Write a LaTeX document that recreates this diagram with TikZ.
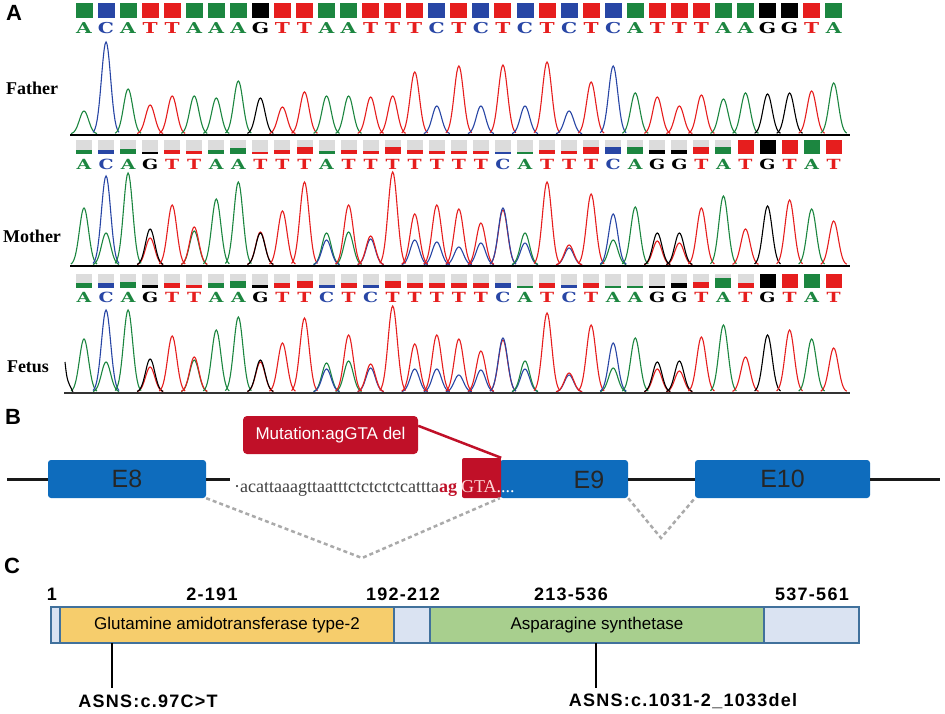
\documentclass[tikz,border=0pt]{standalone}
\usepackage{fontspec}
\newfontfamily\sansfnt{Liberation Sans}
\newfontfamily\sanslbl[LetterSpace=7]{Liberation Sans}
\newfontfamily\serifnt{Liberation Serif}
\newfontfamily\basefnt{DejaVu Serif}
\definecolor{colA}{RGB}{28,134,64}
\definecolor{colC}{RGB}{40,70,165}
\definecolor{colG}{RGB}{0,0,0}
\definecolor{colT}{RGB}{230,30,30}
\definecolor{exonblue}{RGB}{14,108,189}
\definecolor{mutred}{RGB}{192,16,40}
\definecolor{splicegray}{RGB}{170,170,170}
\definecolor{gatyellow}{RGB}{246,205,108}
\definecolor{asngreen}{RGB}{168,207,142}
\definecolor{linkblue}{RGB}{218,227,242}
\definecolor{edgeblue}{RGB}{65,113,156}
\definecolor{emptygray}{RGB}{220,220,220}
\begin{document}
\begin{tikzpicture}[x=1pt, y=-1pt,
    trace/.style={line width=1.1pt},
    basechar/.style={font=\basefnt\bfseries\fontsize{15}{15}\selectfont, inner sep=0pt},
    smallchar/.style={font=\basefnt\bfseries\fontsize{14}{14}\selectfont, inner sep=0pt},
    who/.style={font=\serifnt\bfseries\fontsize{18}{18}\selectfont, inner sep=0pt},
    panel/.style={font=\sansfnt\bfseries\fontsize{22}{22}\selectfont, inner sep=0pt},
    exon/.style={fill=exonblue, rounded corners=3pt, inner sep=0pt, minimum height=38pt,
        font=\sansfnt\fontsize{25}{25}\selectfont, text=black!85},
    protdom/.style={draw=edgeblue, line width=1.8pt, inner sep=0pt, minimum height=36pt,
        font=\sansfnt\fontsize{17}{17}\selectfont},
    reslbl/.style={font=\sanslbl\bfseries\fontsize{18}{18}\selectfont, inner sep=0pt}]
    \useasboundingbox[fill=white] (0,0) rectangle (945,714);

    % Rótulos dos painéis
    \node[panel] (pA) at (14,13) {A};
    \node[panel] (pB) at (13,417) {B};
    \node[panel] (pC) at (12,566) {C};

    % Rótulos das amostras
    \node[who] (lfather) at (32,88) {Father};
    \node[who] (lmother) at (32,236) {Mother};
    \node[who] (lfetus) at (28,367) {Fetus};

    % Sequência do pai
    \foreach \i/\b in {1/A,2/C,3/A,4/T,5/T,6/A,7/A,8/A,9/G,10/T,11/T,12/A,13/A,14/T,15/T,16/T,17/C,18/T,
        19/C,20/T,21/C,22/T,23/C,24/T,25/C,26/A,27/T,28/T,29/T,30/A,31/A,32/G,33/G,34/T,35/A} {
        \fill[col\b] ({84+22.05*(\i-1)-8.5},3) rectangle ({84+22.05*(\i-1)+8.5},18);
        \node[basechar, text=col\b] (father\i) at ({84+22.05*(\i-1)},28.5) {\scalebox{1.35}[1]{\b}};
    }
    % Cromatograma do pai
    \foreach \i/\h/\b in {1/23/A,2/92/C,3/45/A,4/29/T,5/38/T,6/38/A,7/36/A,8/53/A,9/36/G,10/27/T,11/42/T,
        12/38/A,13/38/A,14/37/T,15/38/T,16/62/T,17/28/C,18/68/T,19/28/C,20/69/T,21/28/C,22/72/T,23/23/C,
        24/52/T,25/68/C,26/41/A,27/37/T,28/28/T,29/39/T,30/35/A,31/41/A,32/40/G,33/41/G,34/43/T,35/51/A}
        \draw[trace, col\b] plot[domain=-13:13, samples=27]
            ({84+22.05*(\i-1)+\x}, {134-\h*exp(-((\x)/6.5)*((\x)/6.5))});
    \draw[line width=1.5pt] (70,135) -- (850,135);

    % Sequência da mãe
    \foreach \i/\b/\f in {1/A/.35,2/C/.35,3/A/.4,4/G/.2,5/T/.35,6/T/.25,7/A/.35,8/A/.45,9/T/.2,10/T/.3,
        11/T/.5,12/A/.25,13/T/.35,14/T/.25,15/T/.55,16/T/.35,17/T/.25,18/T/.25,19/T/.25,20/C/.2,21/A/.15,
        22/T/.35,23/T/.25,24/T/.55,25/C/.5,26/A/.5,27/G/.3,28/G/.3,29/T/.5,30/A/.55,31/T/1,32/G/1,33/T/1,
        34/A/1,35/T/1} {
        \fill[emptygray] ({84+22.05*(\i-1)-8},140.5) rectangle ({84+22.05*(\i-1)+8},154.5);
        \fill[col\b] ({84+22.05*(\i-1)-8},{154.5-14*\f}) rectangle ({84+22.05*(\i-1)+8},154.5);
        \node[smallchar, text=col\b] (mother\i) at ({84+22.05*(\i-1)},164) {\scalebox{1.35}[1]{\b}};
    }
    % Cromatograma da mãe (picos secundários e principais)
    \foreach \i/\h/\b in {2/32/A,4/27/T,6/34/A,9/33/T,12/32/A,13/33/A,14/26/C,16/25/C,17/23/C,18/18/C,
        19/22/C,20/55/T,21/22/C,23/17/C,25/25/A,27/24/T,28/22/T,
        1/57/A,2/89/C,3/92/A,4/36/G,5/60/T,6/38/T,7/66/A,8/83/A,9/32/G,10/54/T,11/83/T,12/25/C,13/60/T,
        14/29/T,15/93/T,16/51/T,17/60/T,18/56/T,19/42/T,20/57/C,21/32/A,22/83/T,23/20/T,24/71/T,25/51/C,
        26/58/A,27/32/G,28/32/G,29/57/T,30/69/A,31/36/T,32/59/G,33/65/T,34/56/A,35/44/T}
        \draw[trace, col\b] plot[domain=-13:13, samples=27]
            ({84+22.05*(\i-1)+\x}, {265-\h*exp(-((\x)/6.5)*((\x)/6.5))});
    \draw[line width=1.5pt] (70,266) -- (850,266);

    % Sequência do feto
    \foreach \i/\b/\f in {1/A/.3,2/C/.35,3/A/.4,4/G/.2,5/T/.35,6/T/.15,7/A/.35,8/A/.45,9/G/.2,10/T/.35,
        11/T/.5,12/C/.15,13/T/.35,14/C/.15,15/T/.5,16/T/.35,17/T/.3,18/T/.3,19/T/.3,20/C/.3,21/A/.1,
        22/T/.35,23/C/.2,24/T/.3,25/A/.1,26/A/.1,27/G/.1,28/G/.3,29/T/.4,30/A/.65,31/T/.35,32/G/1,33/T/1,
        34/A/1,35/T/1} {
        \fill[emptygray] ({84+22.05*(\i-1)-8},273.5) rectangle ({84+22.05*(\i-1)+8},287.5);
        \fill[col\b] ({84+22.05*(\i-1)-8},{287.5-14*\f}) rectangle ({84+22.05*(\i-1)+8},287.5);
        \node[smallchar, text=col\b] (fetus\i) at ({84+22.05*(\i-1)},297.5) {\scalebox{1.35}[1]{\b}};
    }
    % Cromatograma do feto (picos secundários e principais)
    \foreach \i/\h/\b in {2/30/A,4/25/T,6/32/A,9/30/T,12/29/A,13/31/A,14/24/C,16/23/C,17/23/C,18/17/C,
        19/22/C,20/52/T,21/23/C,23/17/C,25/24/A,27/23/T,28/21/T,
        1/53/A,2/82/C,3/82/A,4/33/G,5/56/T,6/35/T,7/62/A,8/75/A,9/32/G,10/49/T,11/74/T,12/23/C,13/57/T,
        14/28/T,15/86/T,16/48/T,17/57/T,18/53/T,19/41/T,20/54/C,21/31/A,22/79/T,23/19/T,24/67/T,25/49/C,
        26/54/A,27/30/G,28/31/G,29/55/T,30/67/A,31/35/T,32/57/G,33/62/T,34/53/A,35/44/T}
        \draw[trace, col\b] plot[domain=-13:13, samples=27]
            ({84+22.05*(\i-1)+\x}, {392-\h*exp(-((\x)/6.5)*((\x)/6.5))});
    \draw[trace] (65,362) .. controls (67,380) .. (73,392);
    \draw[line width=1.5pt, black!80] (64,393) -- (850,393);

    % Painel B: éxons e íntrons
    \coordinate (lstart) at (7,479);
    \coordinate (seqstart) at (230,479);
    \coordinate (lend) at (940,479);
    \node[exon, minimum width=158pt] (E8) at (127,479) {E8};
    \node[exon, minimum width=128pt] (E9) at (564,479) {};
    \node[exon, minimum width=175pt] (E10) at (782.5,479) {E10};
    \node[fill=mutred, rounded corners=2pt, minimum width=39pt, minimum height=40pt, inner sep=0pt]
        (mut) at (481.5,478) {};
    \node[font=\sansfnt\fontsize{25}{25}\selectfont, text=black!85, inner sep=0pt] (e9lbl) at (589,480) {E9};
    \draw[line width=3pt, black!90] (lstart) -- (E8.west);
    \draw[line width=3pt, black!90] (E8.east) -- (seqstart);
    \draw[line width=3pt, black!90] (E9.east) -- (E10.west);
    \draw[line width=3pt, black!90] (E10.east) -- (lend);
    \node[anchor=base west, inner sep=0pt, font=\serifnt\fontsize{18}{18}\selectfont, text=black!75]
        (seq) at (234,492) {·acattaaagttaatttctctctctcattta\textcolor{mutred}{\textbf{ag}}\hspace{4pt}%
        \textcolor{red!15}{GTA}\textcolor{white}{....}};

    % Caixa da mutação
    \node[fill=mutred, rounded corners=4pt, minimum width=175pt, minimum height=38pt, inner sep=0pt,
        font=\sansfnt\fontsize{17}{17}\selectfont, text=white] (callout) at (330.5,435) {Mutation:agGTA del};
    \draw[mutred, line width=2.5pt] (callout.6) -- (mut.north east);

    % Splicing (linhas tracejadas)
    \coordinate (apexa) at (362,558);
    \coordinate (apexb) at (661,538);
    \draw[splicegray, line width=2.5pt, dash pattern=on 4pt off 3pt] (E8.south east) -- (apexa) -- (E9.south west);
    \draw[splicegray, line width=2.5pt, dash pattern=on 4pt off 3pt] (E9.south east) -- (apexb) -- (E10.south west);

    % Painel C: domínios da proteína
    \node[protdom, fill=linkblue, minimum width=9pt] (dom1) at (55.5,625) {};
    \node[protdom, fill=gatyellow, minimum width=334pt] (gat) at (227,625) {Glutamine amidotransferase type-2};
    \node[protdom, fill=linkblue, minimum width=36pt] (link) at (412,625) {};
    \node[protdom, fill=asngreen, minimum width=334pt] (asn) at (597,625) {Asparagine synthetase};
    \node[protdom, fill=linkblue, minimum width=95pt] (cterm) at (811.5,625) {};

    % Posições dos resíduos
    \node[reslbl] (n1) at (52,594) {1};
    \node[reslbl] (n2) at (212,594) {2-191};
    \node[reslbl] (n3) at (403,594) {192-212};
    \node[reslbl] (n4) at (571,594) {213-536};
    \node[reslbl] (n5) at (812,594) {537-561};

    % Mutações
    \coordinate (m1top) at (112,643);
    \coordinate (m1bot) at (112,688);
    \coordinate (m2top) at (596,643);
    \coordinate (m2bot) at (596,688);
    \node[reslbl] (mlab1) at (148,701) {ASNS:c.97C>T};
    \node[reslbl] (mlab2) at (683,701) {ASNS:c.1031-2\_1033del};
    \draw[line width=1.5pt] (m1top) -- (m1bot);
    \draw[line width=1.5pt] (m2top) -- (m2bot);
\end{tikzpicture}
\end{document}
